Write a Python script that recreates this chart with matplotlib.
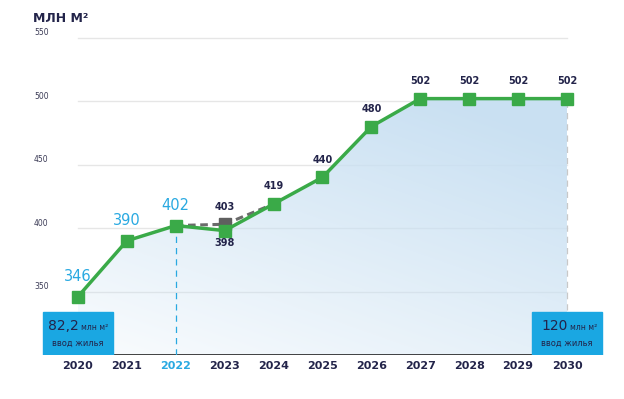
import numpy as np
import matplotlib.pyplot as plt
from matplotlib.patches import Polygon, Rectangle

years = [2020, 2021, 2022, 2023, 2024, 2025, 2026, 2027, 2028, 2029, 2030]
values = [346, 390, 402, 398, 419, 440, 480, 502, 502, 502, 502]
old_years = [2022, 2023, 2024]
old_values = [402, 403, 419]
yticks = [350, 400, 450, 500, 550]
box_years = [2020, 2030]
box_values = ['82,2', '120']

NAVY = '#23244a'
BLUE = '#29a9e1'
GREEN = '#3aaa48'
BOX = '#1aa7e2'

plt.rcParams['font.family'] = ['DejaVu Sans']

fig = plt.figure(figsize=(6.24, 3.99), dpi=100)
ax = fig.add_axes([33 / 624, 44 / 399, 577 / 624, 330 / 399])
ax.set_xlim(2019.08, 2030.88)
ax.set_ylim(300, 560)
ax.axis('off')

# gridlines
for t in yticks:
    ax.plot([years[0], years[-1]], [t, t], color='#e6e6e6', lw=1, zorder=1)
    ax.text(2019.1, t + 4, str(t), color='#3a3a55', fontsize=5.5, ha='left', va='center')

# gradient fill under the line
poly = Polygon(list(zip(years, values)) + [(years[-1], 300), (years[0], 300)],
               closed=True, fc='none', ec='none')
ax.add_patch(poly)
gx, gy = np.meshgrid(np.linspace(0, 1, 200), np.linspace(0, 1, 200))
a = np.clip(0.1 + 0.6 * gy + 0.4 * gx, 0, 1)
img = np.zeros((200, 200, 4))
img[..., 0] = 0.79
img[..., 1] = 0.88
img[..., 2] = 0.95
img[..., 3] = a
im = ax.imshow(img, extent=[years[0], years[-1], 300, max(values)], origin='lower',
               aspect='auto', zorder=2)
im.set_clip_path(poly)

# baseline
ax.plot([years[0], years[-1]], [300, 300], color='#222222', lw=1.2, zorder=3)

# dashed verticals
ax.plot([years[2]] * 2, [300, values[2]], color=BLUE, lw=0.9, ls=(0, (5, 4)), zorder=3)
ax.plot([years[-1]] * 2, [300, values[-1]], color='#c8c8c8', lw=0.9, ls=(0, (5, 4)), zorder=3)

# old plan (dashed gray)
ax.plot(old_years, old_values, color='#6b6b6b', lw=2.2, ls=(0, (2.5, 1.5)), zorder=4)
ax.plot(old_years[1:2], old_values[1:2], marker='s', ms=9, color='#5f5f5f', zorder=4)
ax.text(old_years[1], old_values[1] + 10, str(old_values[1]), color=NAVY, fontsize=7,
        fontweight='bold', ha='center', va='bottom', zorder=6)

# main line
ax.plot(years, values, color=GREEN, lw=2.5, marker='s', ms=9, zorder=5)

# value labels
for x, v in zip(years, values):
    if x <= 2022:
        ax.text(x, v + 10, str(v), color=BLUE, fontsize=10.5, ha='center', va='bottom', zorder=6)
    elif x == 2023:
        ax.text(x, v - 6, str(v), color=NAVY, fontsize=7, fontweight='bold', ha='center', va='top', zorder=6)
    else:
        ax.text(x, v + 10, str(v), color=NAVY, fontsize=7, fontweight='bold', ha='center', va='bottom', zorder=6)

# year labels
for x in years:
    ax.text(x, 295, str(x), color=BLUE if x == 2022 else NAVY, fontsize=8, fontweight='bold',
            ha='center', va='top')

# boxes
for cx, big in zip(box_years, box_values):
    ax.add_patch(Rectangle((cx - 0.725, 300), 1.45, 34, color=BOX, zorder=7))
    ax.text(cx + 0.02, 323, big, color=NAVY, fontsize=10, ha='right', va='center', zorder=8)
    ax.text(cx + 0.06, 322, 'млн м²', color=NAVY, fontsize=5.5, ha='left', va='center', zorder=8)
    ax.text(cx, 309, 'ввод жилья', color=NAVY, fontsize=6, ha='center', va='center', zorder=8)

fig.text(33 / 624, 1 - 18 / 399, 'МЛН М²', color=NAVY, fontsize=9, fontweight='bold',
         ha='left', va='center')

fig.savefig('out.png', dpi=100)
